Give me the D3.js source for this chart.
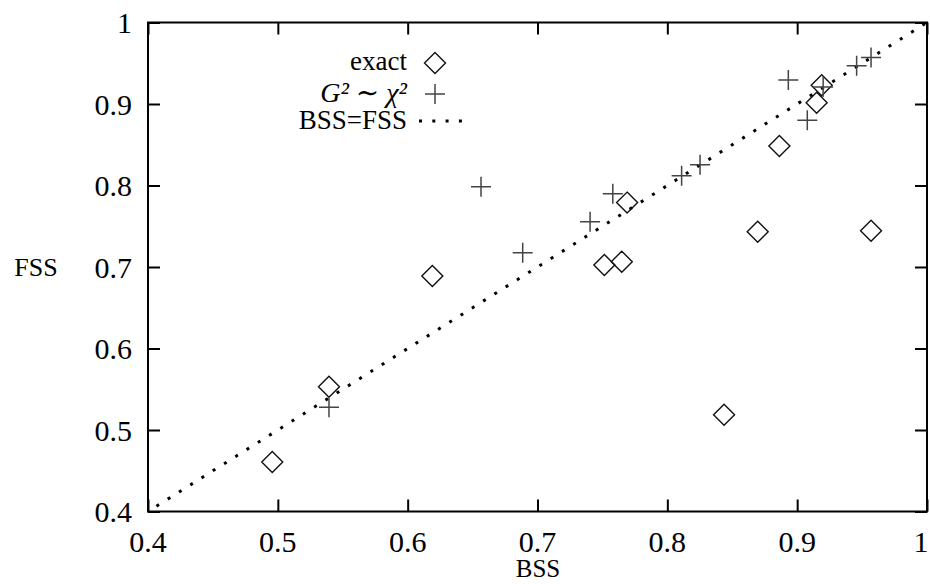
<!DOCTYPE html>
<html>
<head>
<meta charset="utf-8">
<script src="https://cdn.jsdelivr.net/npm/d3@7"></script>
<style>
html,body{margin:0;padding:0;background:#fff;}
</style>
</head>
<body>
<svg id="chart" width="930" height="584"></svg>
<script>
// ---- data ----
const xTicks = [0.4, 0.5, 0.6, 0.7, 0.8, 0.9, 1];
const yTicks = [0.4, 0.5, 0.6, 0.7, 0.8, 0.9, 1];
const xTickLabels = ["0.4", "0.5", "0.6", "0.7", "0.8", "0.9", "1"];
const yTickLabels = ["0.4", "0.5", "0.6", "0.7", "0.8", "0.9", "1"];

// "exact" series (diamonds): BSS, FSS
const exactBSS = [0.4957, 0.5394, 0.619, 0.7515, 0.7649, 0.769, 0.8437, 0.8696, 0.8863, 0.915, 0.9189, 0.9569];
const exactFSS = [0.4607, 0.553, 0.689, 0.7025, 0.7065, 0.779, 0.5188, 0.7433, 0.8485, 0.9016, 0.923, 0.7446];

// "G^2 ~ chi^2" series (plus signs)
const g2BSS = [0.5394, 0.6565, 0.6886, 0.7405, 0.758, 0.811, 0.8252, 0.8932, 0.9078, 0.920, 0.9458, 0.9569];
const g2FSS = [0.528, 0.7985, 0.7176, 0.7556, 0.790, 0.812, 0.8255, 0.9294, 0.880, 0.921, 0.947, 0.957];

// reference line BSS = FSS
const diagBSS = [0.4, 1];
const diagFSS = [0.4, 1];

// ---- drawing ----
const FONT = "'Liberation Serif', 'DejaVu Serif', 'Times New Roman', serif";
const svg = d3.select("#chart").attr("font-family", FONT);
const x = d3.scaleLinear().domain([0.4, 1]).range([148, 927]);
const y = d3.scaleLinear().domain([0.4, 1]).range([511.5, 22.5]);
const [x0, x1] = x.range();
const [y0, y1] = y.range();
const tickLen = 12;

// dotted diagonal
const line = d3.line().x(d => x(d[0])).y(d => y(d[1]));
svg.append("path")
  .datum(d3.zip(diagBSS, diagFSS))
  .attr("d", line)
  .attr("fill", "none")
  .attr("stroke", "#000")
  .attr("stroke-width", 3)
  .attr("stroke-dasharray", "3 10.3")
  .attr("stroke-dashoffset", -10);

// frame
svg.append("rect")
  .attr("x", x0).attr("y", y1)
  .attr("width", x1 - x0).attr("height", y0 - y1)
  .attr("fill", "none").attr("stroke", "#000").attr("stroke-width", 2);

// axes via d3 axis generators (ticks inside, labels drawn separately)
const axBottom = d3.axisBottom(x).tickValues(xTicks).tickSize(-tickLen).tickFormat("");
const axTop = d3.axisTop(x).tickValues(xTicks).tickSize(-tickLen).tickFormat("");
const axLeft = d3.axisLeft(y).tickValues(yTicks).tickSize(-tickLen).tickFormat("");
const axRight = d3.axisRight(y).tickValues(yTicks).tickSize(-tickLen).tickFormat("");

function styleAxis(g) {
  g.select(".domain").remove();
  g.selectAll(".tick line").attr("stroke", "#000").attr("stroke-width", 2);
}
svg.append("g").attr("transform", `translate(0,${y0})`).call(axBottom).call(styleAxis);
svg.append("g").attr("transform", `translate(0,${y1})`).call(axTop).call(styleAxis);
svg.append("g").attr("transform", `translate(${x0},0)`).call(axLeft).call(styleAxis);
svg.append("g").attr("transform", `translate(${x1},0)`).call(axRight).call(styleAxis);

// tick labels
svg.append("g").selectAll("text")
  .data(xTicks)
  .join("text")
  .attr("x", d => Math.min(x(d), 921))
  .attr("y", 552)
  .attr("text-anchor", "middle")
  .attr("font-size", 30)
  .text((d, i) => xTickLabels[i]);

svg.append("g").selectAll("text")
  .data(yTicks)
  .join("text")
  .attr("x", 132)
  .attr("y", d => y(d) + 10.5)
  .attr("text-anchor", "end")
  .attr("font-size", 30)
  .text((d, i) => yTickLabels[i]);

// axis titles
svg.append("text").attr("x", 538).attr("y", 577).attr("text-anchor", "middle")
  .attr("font-size", 25).text("BSS");
svg.append("text").attr("x", 36).attr("y", 276).attr("text-anchor", "middle")
  .attr("font-size", 26).text("FSS");

// markers
const R = 10.5;
function diamondPath(cx, cy, r) {
  return `M${cx},${cy - r}L${cx + r},${cy}L${cx},${cy + r}L${cx - r},${cy}Z`;
}
function plusPath(cx, cy, r) {
  return `M${cx - r},${cy}H${cx + r}M${cx},${cy - r}V${cy + r}`;
}

svg.append("g").selectAll("path")
  .data(d3.zip(exactBSS, exactFSS))
  .join("path")
  .attr("d", d => diamondPath(x(d[0]), y(d[1]), R))
  .attr("fill", "none").attr("stroke", "#111").attr("stroke-width", 1.4);

svg.append("g").selectAll("path")
  .data(d3.zip(g2BSS, g2FSS))
  .join("path")
  .attr("d", d => plusPath(x(d[0]), y(d[1]), 10))
  .attr("fill", "none").attr("stroke", "#444").attr("stroke-width", 1.5);

// legend
const lg = svg.append("g");
const lx = 407, sx = 435;
lg.append("text").attr("x", lx).attr("y", 70).attr("text-anchor", "end")
  .attr("font-size", 27).text("exact");
lg.append("path").attr("d", diamondPath(sx, 63, R))
  .attr("fill", "none").attr("stroke", "#111").attr("stroke-width", 1.4);

lg.append("text").attr("x", lx).attr("y", 102).attr("text-anchor", "end")
  .attr("font-size", 28).attr("font-style", "italic")
  .text("G\u00B2 \u223C \u03C7\u00B2");
lg.append("path").attr("d", plusPath(sx, 94, 10))
  .attr("fill", "none").attr("stroke", "#444").attr("stroke-width", 1.5);

lg.append("text").attr("x", lx).attr("y", 129).attr("text-anchor", "end")
  .attr("font-size", 27).text("BSS=FSS");
lg.append("line").attr("x1", 419).attr("x2", 469).attr("y1", 121).attr("y2", 121)
  .attr("stroke", "#000").attr("stroke-width", 3).attr("stroke-dasharray", "3 10.3");
</script>
</body>
</html>
